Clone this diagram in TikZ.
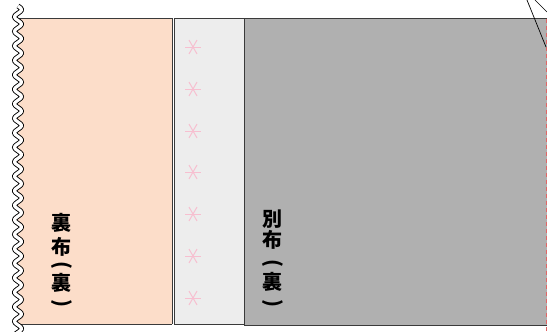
\documentclass[tikz,border=0pt]{standalone}
\usepackage{fontspec}
\newfontfamily\cjk{Noto Sans CJK JP}
\usetikzlibrary{calc}
\definecolor{peach}{HTML}{FCDDC9}
\definecolor{strip}{HTML}{EDEDED}
\definecolor{dgray}{HTML}{B0B0B0}
\definecolor{edge}{HTML}{3A3A3A}
\definecolor{pinkast}{HTML}{F7BFD0}
\definecolor{reddash}{HTML}{E06666}
\tikzset{
  border/.style={draw=edge, line width=0.9pt},
  vchar/.style={font=\cjk\bfseries\fontsize{20}{22}\selectfont, inner sep=0pt, text=black, anchor=center},
  vparen/.style={font=\cjk\bfseries\fontsize{20}{22}\selectfont, inner sep=0pt, text=black, anchor=center, rotate=-90},
  ast/.style={draw=pinkast, line width=1pt}
}
\begin{document}
\begin{tikzpicture}[x=1pt,y=-1pt]
\useasboundingbox (0,0) rectangle (547,332);
% peach back cloth with wavy left edge
\begin{scope}
  \clip (0,18) rectangle (172,324);
  \fill[peach] plot[domain=6:336, samples=300, smooth] ({18+3.4*sin((\x-6)*24.83)}, \x) -- (172,336) -- (172,6) -- cycle;
\end{scope}
\draw[border] (18,18) -- (172,18);
\draw[border] (18,324) -- (172,324);
\draw[border] (172,18) -- (172,324);
% light strip
\node[draw=edge, fill=strip, line width=0.9pt, minimum width=71pt, minimum height=306pt, inner sep=0pt, anchor=north west] (strip) at (173.5,18) {};
% dark gray cloth
\fill[dgray] (244,18) rectangle (547,325);
\draw[border] (244,18) -- (547,18);
\draw[border] (244,325) -- (547,325);
\draw[border] (244,18) -- (244,325);
\draw[reddash, line width=1pt, dash pattern=on 4pt off 3pt] (546,19) -- (546,332);
% wavy edge
\draw[draw=black, line width=0.9pt, double=white, double distance=3.2pt] plot[domain=6:336, samples=300, smooth] ({18+3.4*sin((\x-6)*24.83)}, \x);
% asterisks
\foreach \yy in {47,89,131,172,214,256,298}{
  \draw[ast] (185,\yy) -- (201,\yy);
  \draw[ast] ($(193,\yy)+(60:-8)$) -- ($(193,\yy)+(60:8)$);
  \draw[ast] ($(193,\yy)+(120:-8)$) -- ($(193,\yy)+(120:8)$);
}
% top right lines
\coordinate (l1a) at (527,0);
\coordinate (l1b) at (546,47);
\coordinate (l2a) at (535,0);
\coordinate (l2b) at (547,12);
\draw[black, line width=0.7pt] (l1a) -- (l1b);
\draw[black, line width=0.7pt] (l2a) -- (l2b);
% labels: 裏布（裏）
\node[vchar] (u1) at (62,222.5) {裏};
\node[vchar] (u2) at (62,246.5) {布};
\node[vparen] (u3) at (62,265) {(};
\node[vchar] (u4) at (62,282.5) {裏};
\node[vparen] (u5) at (62,303.5) {)};
% labels: 別布（裏）
\node[vchar] (b1) at (272.5,219) {別};
\node[vchar] (b2) at (272.5,240) {布};
\node[vparen] (b3) at (272.5,263) {(};
\node[vchar] (b4) at (272.5,282) {裏};
\node[vparen] (b5) at (272.5,303.5) {)};
\end{tikzpicture}
\end{document}
